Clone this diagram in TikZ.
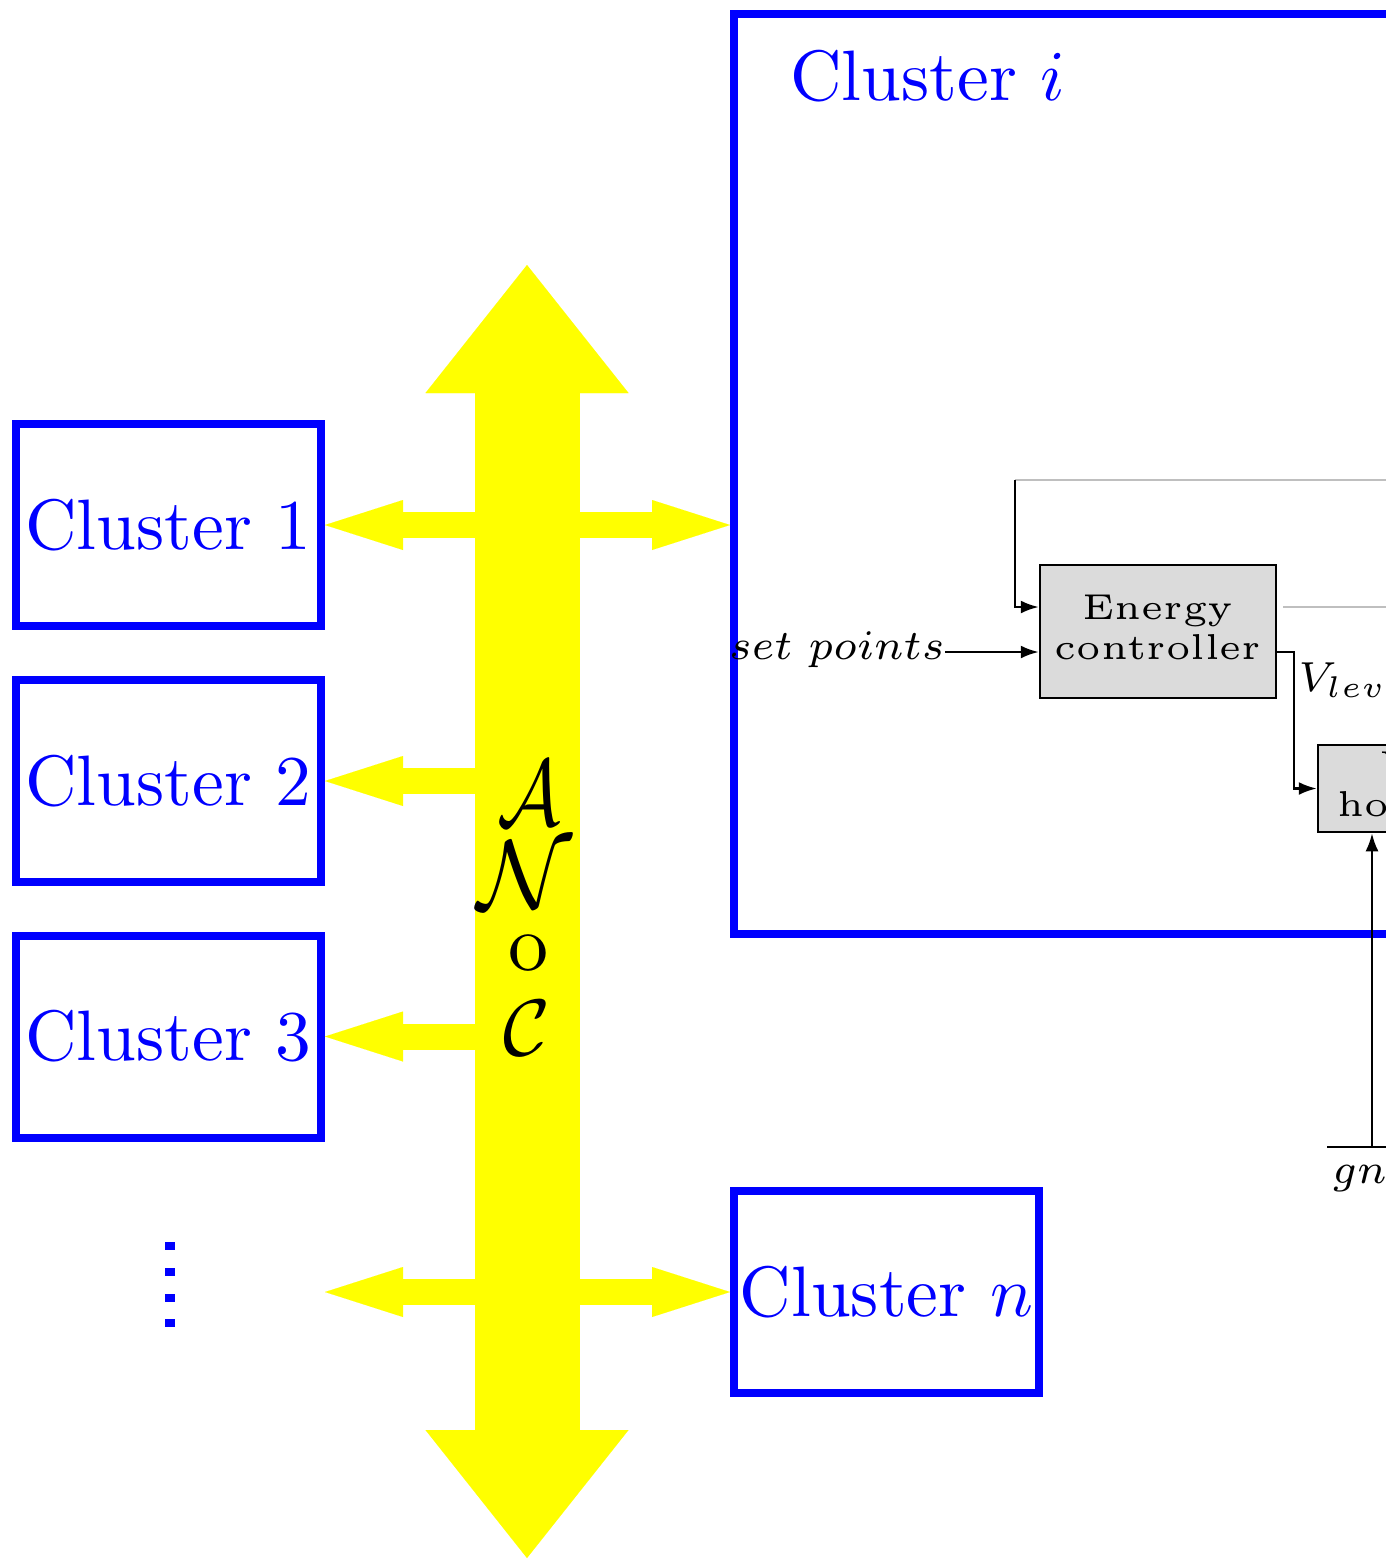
\RequirePackage{fix-cm}
\documentclass[tikz,border=0pt]{standalone}
\usepackage{graphicx}
\usetikzlibrary{arrows.meta,calc}
\definecolor{ylw}{RGB}{255,255,0}
\definecolor{blu}{RGB}{0,0,255}
\newcommand{\smalltxt}[1]{\scalebox{3.6}{\fontsize{5}{5.56}\selectfont #1}}
\newcommand{\mtxt}[1]{\scalebox{3.0}{\fontsize{7}{8}\selectfont $#1$}}
\newcommand{\bigtxt}[1]{\scalebox{3.57}{\fontsize{10}{12}\selectfont #1}}
\tikzset{
  htip/.tip={Triangle[length=39pt,width=25pt,line width=0.01pt]},
  vtip/.tip={Triangle[length=64pt,width=101.5pt,line width=0.01pt]},
  bus/.style={draw=ylw, line width=52.5pt, arrows={vtip-vtip}},
  harrow/.style={draw=ylw, line width=13pt},
  cluster/.style={draw=blu, line width=4pt, minimum width=152.5pt, minimum height=101pt,
    inner sep=0pt, text=blu},
  block/.style={draw=black, line width=1.25pt, fill=black!14, inner sep=0pt},
  sig/.style={black, line width=1.2pt, -{Latex[length=9pt,width=6.5pt]}},
  plain/.style={black, line width=1.2pt},
  faint/.style={black!25, line width=0.8pt},
  noc/.style={anchor=base, inner sep=0pt}
}
\begin{document}
\begin{tikzpicture}[x=0.5pt,y=-0.5pt]
\useasboundingbox (0,0) rectangle (1386,1560);
\clip (0,0) rectangle (1386,1560);

% cluster boxes
\node[cluster] (c1) at (168.5,525) {\bigtxt{Cluster 1}};
\node[cluster] (c2) at (168.5,781) {\bigtxt{Cluster 2}};
\node[cluster] (c3) at (168.5,1036.5) {\bigtxt{Cluster 3}};
\node[cluster] (cn) at (886.5,1292) {\bigtxt{Cluster $n$}};
\node[draw=blu, line width=4pt, minimum width=533pt, minimum height=460pt, inner sep=0pt] (ci) at (1267,474) {};
\node[anchor=base west, inner sep=0pt, text=blu] (cil) at (790,100) {\bigtxt{Cluster $i$}};

% NoC bus
\coordinate (busTop) at (527,265);
\coordinate (busBot) at (527,1558);
\coordinate (dotsR) at (325,1292);
\draw[bus] (busTop) -- (busBot);
\draw[harrow, arrows={htip-htip}] (c1.east) -- (c1.east -| ci.west);
\draw[harrow, arrows={-htip}] (c2.east -| busTop) -- (c2.east);
\draw[harrow, arrows={-htip}] (c3.east -| busTop) -- (c3.east);
\draw[harrow, arrows={htip-htip}] (dotsR) -- (cn.west);

% ANoC letters
\node[noc, font=\fontsize{47}{56}\selectfont] (nA) at (529,825) {\scalebox{0.84}[1]{$\mathcal{A}$}};
\node[noc, font=\fontsize{49}{58}\selectfont] (nN) at (525,908) {$\mathcal{N}$};
\node[noc] (nO) at (528,970) {\scalebox{4}{\fontsize{10}{12}\selectfont o}};
\node[noc, font=\fontsize{40}{48}\selectfont] (nC) at (527,1055) {$\mathcal{C}$};

% vertical dots
\foreach \yy in {1246,1272,1298,1323}
  \fill[blu] (165,\yy-4) rectangle (175,\yy+4);

% inner blocks of cluster i
\node[block, minimum width=118pt, minimum height=66.5pt] (ec) at (1158,631.5)
  {\smalltxt{\begin{tabular}{@{}c@{}}Energy\\controller\end{tabular}}};
\node[block, minimum width=105pt, minimum height=43.5pt] (vh) at (1423,788.5)
  {\smalltxt{\begin{tabular}{@{}c@{}}Vdd\\hopping\end{tabular}}};

\node[anchor=east, inner sep=0pt] (sp) at (945,650) {\mtxt{set\ points}};
\draw[sig] (sp.east |- 0,652) -- (ec.west |- 0,652);

\coordinate (fbC) at (1015,480);
\coordinate (fbR) at (1400,480);
\draw[faint] (fbR) -- (fbC);
\draw[sig] (fbC) |- ($(ec.west)+(0,-24.5)$);
\draw[faint] ($(ec.east)+(6,-24.5)$) -- ++(150,0);

\draw[sig] ($(ec.east)+(0,20.5)$) -- ++(17,0) |- (vh.west);
\node[anchor=north west, inner sep=0pt] (vl) at (1298,662) {\mtxt{V_{level}}};

\coordinate (gndC) at (1372,1147);
\draw[plain] ($(gndC)+(-45,0)$) -- ($(gndC)+(45,0)$);
\draw[sig] (gndC) -- (gndC |- vh.south);
\node[anchor=north, inner sep=0pt] (gnd) at (1372,1154) {\mtxt{gnd}};
\end{tikzpicture}
\end{document}
